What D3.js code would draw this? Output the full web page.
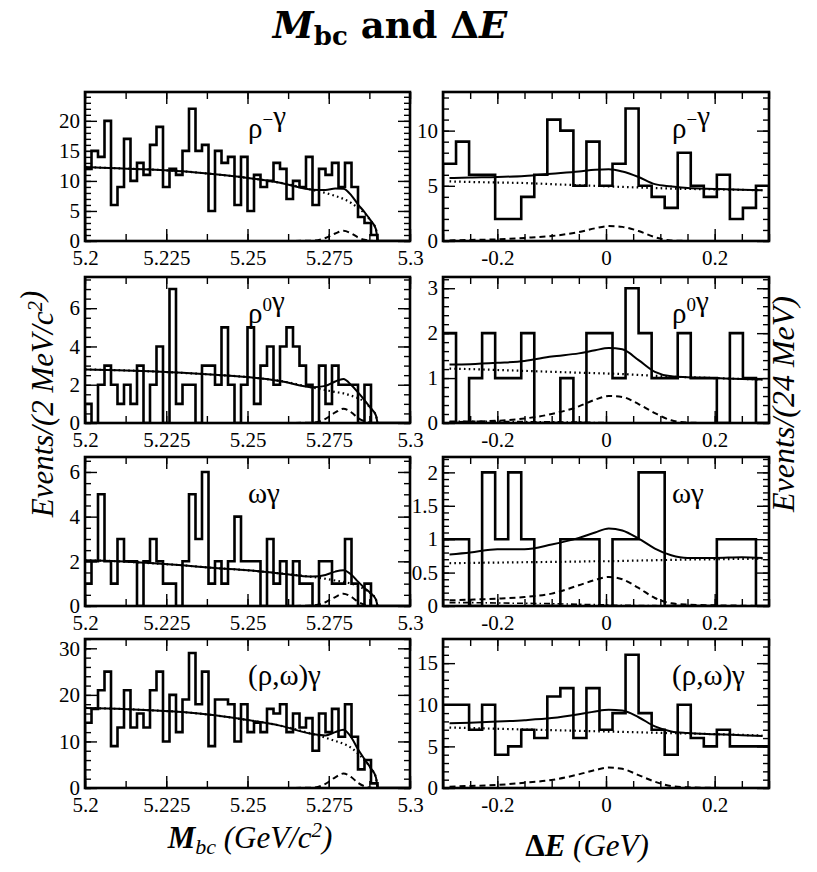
<!DOCTYPE html>
<html>
<head>
<meta charset="utf-8">
<script src="https://cdn.jsdelivr.net/npm/d3@7"></script>
<style>
  body { margin: 0; background: #fff; }
  svg { display: block; }
</style>
</head>
<body>
<div id="chart"></div>
<script>
// Mbc: 50 bins of 2 MeV in [5.2, 5.3]; dE: 25 bins of 24 MeV in [-0.3, 0.3]
const mbcDomain = [5.2, 5.3];
const deDomain = [-0.3, 0.3];
const mbcBin = 0.002;
const deBin = 0.024;

const mbcTickLabels = [5.2, 5.225, 5.25, 5.275, 5.3];
const deTickLabels = [-0.2, 0, 0.2];

// histogram contents (events / bin)
const rhoMinusMbc = [12, 15, 14, 20, 6, 9, 17, 10, 13, 11, 16, 19, 9, 12, 11, 15, 22, 15, 16, 5, 15, 13, 14, 6, 14, 5, 11, 9, 10, 13, 12, 7, 10, 9, 14, 6, 12, 11, 13, 9, 13, 9, 4, 3, 1, 0, 0, 0, 0, 0];
const rhoZeroMbc = [1, 0, 2, 3, 2, 1, 2, 1, 3, 0, 2, 4, 0, 7, 1, 2, 2, 0, 3, 3, 2, 5, 2, 0, 2, 5, 1, 3, 4, 2, 4, 5, 4, 3, 2, 0, 3, 1, 3, 2, 2, 2, 0, 2, 0, 0, 0, 0, 0, 0];
const omegaMbc = [1, 2, 5, 2, 1, 3, 2, 2, 0, 2, 3, 2, 1, 1, 0, 2, 5, 3, 6, 1, 2, 1, 2, 4, 2, 2, 2, 0, 3, 1, 2, 0, 2, 1, 1, 0, 2, 2, 1, 1, 3, 1, 0, 1, 0, 0, 0, 0, 0, 0];
const combMbc = [14, 17, 21, 25, 9, 13, 21, 13, 16, 13, 21, 25, 10, 20, 12, 19, 29, 18, 25, 9, 19, 19, 18, 10, 18, 12, 14, 12, 17, 16, 18, 12, 16, 13, 15, 8, 16, 12, 17, 11, 18, 11, 4, 6, 1, 0, 0, 0, 0, 0];

const rhoMinusDe = [7, 9, 6, 6, 2, 2, 4, 6, 11, 10, 5, 9, 5, 7, 12, 5, 4, 3, 8, 5, 4, 6, 2, 3, 5];
const rhoZeroDe = [2, 0, 1, 2, 1, 1, 2, 0, 0, 1, 0, 2, 2, 1, 3, 2, 1, 1, 2, 1, 1, 0, 2, 1, 0];
const omegaDe = [1, 1, 0, 2, 1, 2, 1, 0, 0, 1, 1, 1, 0, 1, 1, 2, 2, 0, 0, 0, 0, 1, 1, 1, 0];
const combDe = [10, 10, 7, 10, 4, 5, 7, 6, 11, 12, 6, 12, 7, 9, 16, 9, 7, 4, 10, 6, 5, 7, 5, 5, 5];

// fit curves, read at these abscissae
const mbcCurveX = [5.2, 5.21, 5.22, 5.23, 5.24, 5.25, 5.26, 5.27, 5.274, 5.277, 5.2795, 5.282, 5.284, 5.286, 5.288, 5.2895, 5.29];
const deCurveX = [-0.288, -0.25, -0.2, -0.15, -0.1, -0.05, -0.02, 0.005, 0.03, 0.06, 0.09, 0.12, 0.15, 0.2, 0.25, 0.288];

const rhoMinusMbcTotal = [12.3, 12.1, 11.9, 11.6, 11.1, 10.5, 9.7, 8.55, 8.5, 8.75, 8.7, 7.55, 6.1, 4.8, 3.35, 2.0, 0];
const rhoMinusMbcBkg = [12.3, 12.1, 11.9, 11.6, 11.1, 10.5, 9.7, 8.5, 8.0, 7.5, 7.0, 6.3, 5.5, 4.6, 3.3, 2.0, 0];
const rhoMinusMbcSig = [0, 0, 0, 0, 0, 0, 0, 0.05, 0.5, 1.25, 1.7, 1.25, 0.6, 0.2, 0.04, 0, 0];

const rhoZeroMbcTotal = [2.8, 2.76, 2.7, 2.62, 2.52, 2.4, 2.2, 1.87, 1.94, 2.17, 2.3, 1.97, 1.6, 1.2, 0.75, 0.4, 0];
const rhoZeroMbcBkg = [2.8, 2.76, 2.7, 2.62, 2.52, 2.4, 2.2, 1.85, 1.72, 1.62, 1.55, 1.42, 1.3, 1.1, 0.75, 0.4, 0];
const rhoZeroMbcSig = [0, 0, 0, 0, 0, 0, 0, 0.02, 0.22, 0.55, 0.75, 0.55, 0.26, 0.09, 0.02, 0, 0];

const omegaMbcTotal = [2.05, 2.0, 1.92, 1.82, 1.7, 1.6, 1.46, 1.32, 1.39, 1.54, 1.6, 1.4, 1.09, 0.81, 0.56, 0.3, 0];
const omegaMbcBkg = [2.05, 2.0, 1.92, 1.82, 1.7, 1.6, 1.46, 1.3, 1.22, 1.14, 1.08, 1.0, 0.9, 0.75, 0.55, 0.3, 0];
const omegaMbcSig = [0, 0, 0, 0, 0, 0, 0, 0.02, 0.17, 0.4, 0.55, 0.4, 0.19, 0.06, 0.01, 0, 0];

const combMbcTotal = [17.2, 17.0, 16.7, 16.3, 15.6, 14.6, 13.4, 11.6, 11.3, 12.0, 12.5, 10.8, 8.3, 6.2, 4.2, 2.3, 0];
const combMbcBkg = [17.2, 17.0, 16.7, 16.3, 15.6, 14.6, 13.4, 11.6, 10.8, 10.1, 9.5, 8.6, 7.4, 6.0, 4.2, 2.3, 0];
const combMbcSig = [0, 0, 0, 0, 0, 0, 0, 0.08, 0.9, 2.3, 3.1, 2.3, 1.1, 0.36, 0.07, 0, 0];

const rhoMinusDeTotal = [5.7, 5.75, 5.8, 5.9, 6.1, 6.3, 6.45, 6.5, 6.3, 5.8, 5.15, 4.95, 4.8, 4.72, 4.65, 4.6];
const rhoMinusDeBkg = [5.4, 5.35, 5.3, 5.25, 5.15, 5.05, 5.0, 4.95, 4.9, 4.85, 4.8, 4.75, 4.72, 4.68, 4.63, 4.6];
const rhoMinusDeSig = [0.05, 0.1, 0.15, 0.28, 0.45, 0.81, 1.15, 1.35, 1.28, 0.9, 0.35, 0.05, 0.01, 0, 0, 0];

const rhoZeroDeTotal = [1.3, 1.31, 1.34, 1.38, 1.48, 1.55, 1.62, 1.67, 1.64, 1.4, 1.14, 1.04, 1.02, 1.0, 0.98, 0.97];
const rhoZeroDeBkg = [1.21, 1.2, 1.18, 1.16, 1.14, 1.12, 1.11, 1.1, 1.09, 1.07, 1.05, 1.03, 1.02, 1.0, 0.98, 0.97];
const rhoZeroDeSig = [0.02, 0.03, 0.05, 0.1, 0.2, 0.37, 0.52, 0.6, 0.58, 0.42, 0.22, 0.06, 0.01, 0, 0, 0];
const rhoZeroDeOther = [0.04, 0.04, 0.035, 0.03, 0.025, 0.02, 0.012, 0.006, 0.003, 0, 0, 0, 0, 0, 0, 0];

const omegaDeTotal = [0.77, 0.8, 0.85, 0.85, 0.92, 1.02, 1.1, 1.16, 1.13, 1.01, 0.86, 0.76, 0.72, 0.72, 0.73, 0.72];
const omegaDeBkg = [0.64, 0.645, 0.65, 0.655, 0.66, 0.665, 0.67, 0.67, 0.675, 0.68, 0.685, 0.69, 0.695, 0.7, 0.705, 0.71];
const omegaDeSig = [0.085, 0.095, 0.11, 0.135, 0.185, 0.31, 0.39, 0.435, 0.4, 0.27, 0.12, 0.04, 0.02, 0.01, 0.005, 0];
const omegaDeOther = [0.05, 0.05, 0.045, 0.04, 0.035, 0.025, 0.02, 0.015, 0.01, 0.008, 0.005, 0.003, 0, 0, 0, 0];

const combDeTotal = [7.78, 7.85, 7.98, 8.15, 8.4, 8.86, 9.2, 9.39, 9.3, 8.5, 7.4, 6.8, 6.6, 6.46, 6.35, 6.26];
const combDeBkg = [7.26, 7.2, 7.12, 7.03, 6.95, 6.87, 6.82, 6.78, 6.74, 6.69, 6.64, 6.59, 6.55, 6.47, 6.38, 6.3];
const combDeSig = [0.16, 0.25, 0.36, 0.64, 0.96, 1.64, 2.15, 2.45, 2.3, 1.55, 0.76, 0.24, 0.08, 0.02, 0, 0];

// y-axis ranges and labels, panel order: rho- Mbc, rho- dE, rho0 Mbc, rho0 dE, omega Mbc, omega dE, comb Mbc, comb dE
const yMaxes = [24.8, 13.5, 7.63, 3.25, 6.67, 2.23, 32, 17.9];
const yTickLabels = [
  [0, 5, 10, 15, 20], [0, 5, 10],
  [0, 2, 4, 6], [0, 1, 2, 3],
  [0, 2, 4, 6], [0, 0.5, 1, 1.5, 2],
  [0, 10, 20, 30], [0, 5, 10, 15],
];
const yMinorSteps = [1, 1, 0.5, 0.2, 0.5, 0.1, 2, 1];

const modeLabels = [
  [{ t: 'ρ' }, { t: '−', sup: true }, { t: 'γ' }],
  [{ t: 'ρ' }, { t: '0', sup: true }, { t: 'γ' }],
  [{ t: 'ωγ' }],
  [{ t: '(ρ,ω)γ' }],
];

const serif = '"Liberation Serif", "Times New Roman", serif';

const svg = d3.select('#chart')
  .append('svg')
  .attr('width', 817)
  .attr('height', 872);

const cols = [
  { x0: 85, x1: 410, domain: mbcDomain, bin: mbcBin, ticks: mbcTickLabels, minor: 0.0125, curveX: mbcCurveX, labelX: 248 },
  { x0: 443, x1: 769, domain: deDomain, bin: deBin, ticks: deTickLabels, minor: 0.05, curveX: deCurveX, labelX: 672 },
];
const rows = [[92, 241], [277, 423], [457, 606], [639, 788]];

const panels = [
  { counts: rhoMinusMbc, total: rhoMinusMbcTotal, bkg: rhoMinusMbcBkg, sig: rhoMinusMbcSig },
  { counts: rhoMinusDe, total: rhoMinusDeTotal, bkg: rhoMinusDeBkg, sig: rhoMinusDeSig },
  { counts: rhoZeroMbc, total: rhoZeroMbcTotal, bkg: rhoZeroMbcBkg, sig: rhoZeroMbcSig },
  { counts: rhoZeroDe, total: rhoZeroDeTotal, bkg: rhoZeroDeBkg, sig: rhoZeroDeSig, other: rhoZeroDeOther },
  { counts: omegaMbc, total: omegaMbcTotal, bkg: omegaMbcBkg, sig: omegaMbcSig },
  { counts: omegaDe, total: omegaDeTotal, bkg: omegaDeBkg, sig: omegaDeSig, other: omegaDeOther },
  { counts: combMbc, total: combMbcTotal, bkg: combMbcBkg, sig: combMbcSig },
  { counts: combDe, total: combDeTotal, bkg: combDeBkg, sig: combDeSig },
];

const styleAxis = (g) => g
  .attr('font-family', serif)
  .call((a) => a.select('.domain').remove())
  .call((a) => a.selectAll('line').attr('stroke', '#000').attr('stroke-width', 1.4))
  .call((a) => a.selectAll('text')
    .attr('fill', '#000')
    .attr('font-family', serif)
    .attr('font-size', 21));

panels.forEach((p, i) => {
  const c = cols[i % 2];
  const [y0, y1] = rows[Math.floor(i / 2)];

  const x = d3.scaleLinear().domain(c.domain).range([c.x0, c.x1]);
  const y = d3.scaleLinear().domain([0, yMaxes[i]]).range([y1, y0]);

  const clipId = `clip-${i}`;
  svg.append('clipPath').attr('id', clipId)
    .append('rect')
    .attr('x', c.x0)
    .attr('y', y0)
    .attr('width', c.x1 - c.x0)
    .attr('height', y1 - y0);

  const g = svg.append('g').attr('class', `panel-${i}`);

  // axes: labelled ticks + minor ticks, all pointing inward
  const minorX = d3.range(c.domain[0], c.domain[1] + 1e-9, c.minor);
  const minorY = d3.range(0, yMaxes[i] + 1e-9, yMinorSteps[i]);

  g.append('g')
    .attr('transform', `translate(0,${y1})`)
    .call(d3.axisBottom(x).tickValues(minorX).tickSize(-7).tickFormat(''))
    .call(styleAxis);
  g.append('g')
    .attr('transform', `translate(0,${y1})`)
    .call(d3.axisBottom(x).tickValues(c.ticks).tickSize(-12).tickPadding(9).tickFormat((d) => String(d)))
    .call(styleAxis);
  g.append('g')
    .attr('transform', `translate(0,${y0})`)
    .call(d3.axisTop(x).tickValues(minorX).tickSize(-7).tickFormat(''))
    .call(styleAxis);
  g.append('g')
    .attr('transform', `translate(0,${y0})`)
    .call(d3.axisTop(x).tickValues(c.ticks).tickSize(-12).tickFormat(''))
    .call(styleAxis);

  g.append('g')
    .attr('transform', `translate(${c.x0},0)`)
    .call(d3.axisLeft(y).tickValues(minorY).tickSize(-6).tickFormat(''))
    .call(styleAxis);
  g.append('g')
    .attr('transform', `translate(${c.x0},0)`)
    .call(d3.axisLeft(y).tickValues(yTickLabels[i]).tickSize(-12).tickPadding(5).tickFormat((d) => String(d)))
    .call(styleAxis);
  g.append('g')
    .attr('transform', `translate(${c.x1},0)`)
    .call(d3.axisRight(y).tickValues(minorY).tickSize(-6).tickFormat(''))
    .call(styleAxis);
  g.append('g')
    .attr('transform', `translate(${c.x1},0)`)
    .call(d3.axisRight(y).tickValues(yTickLabels[i]).tickSize(-12).tickFormat(''))
    .call(styleAxis);

  // histogram outline
  const steps = [[c.domain[0], 0]]
    .concat(p.counts.map((n, k) => [c.domain[0] + k * c.bin, n]))
    .concat([[c.domain[1], p.counts[p.counts.length - 1]], [c.domain[1], 0]]);

  g.append('path')
    .attr('clip-path', `url(#${clipId})`)
    .attr('d', d3.line()
      .x((d) => x(d[0]))
      .y((d) => y(d[1]))
      .curve(d3.curveStepAfter)(steps))
    .attr('fill', 'none')
    .attr('stroke', '#000')
    .attr('stroke-width', 2.6);

  // fit components
  const fitLine = d3.line()
    .x((d) => x(d[0]))
    .y((d) => y(d[1]))
    .curve(d3.curveMonotoneX);

  const comps = [
    { v: p.other, dash: '6,3,1.5,3', w: 1.6 },
    { v: p.sig, dash: '6,4', w: 2 },
    { v: p.bkg, dash: '1.6,3.2', w: 2.2 },
    { v: p.total, dash: null, w: 2 },
  ].filter((d) => d.v);

  g.append('g')
    .attr('clip-path', `url(#${clipId})`)
    .selectAll('path')
    .data(comps)
    .join('path')
    .attr('d', (d) => fitLine(d.v.map((v, k) => [c.curveX[k], v])))
    .attr('fill', 'none')
    .attr('stroke', '#000')
    .attr('stroke-width', (d) => d.w)
    .attr('stroke-dasharray', (d) => d.dash);

  // frame
  g.append('rect')
    .attr('x', c.x0)
    .attr('y', y0)
    .attr('width', c.x1 - c.x0)
    .attr('height', y1 - y0)
    .attr('fill', 'none')
    .attr('stroke', '#000')
    .attr('stroke-width', 2.6);

  // decay mode label
  const lab = g.append('text')
    .attr('x', c.labelX)
    .attr('y', y0 + 46)
    .attr('font-family', serif)
    .attr('font-size', 29);
  modeLabels[Math.floor(i / 2)].forEach((s) => {
    if (s.sup) {
      lab.append('tspan').attr('dy', -12).attr('font-size', 19).text(s.t);
      lab.append('tspan').attr('dy', 12).text('');
    } else {
      lab.append('tspan').text(s.t);
    }
  });
});

// title
const title = svg.append('text')
  .attr('x', 390)
  .attr('y', 38)
  .attr('text-anchor', 'middle')
  .attr('font-family', '"DejaVu Serif", serif')
  .attr('font-weight', 'bold')
  .attr('font-size', 37);
title.append('tspan').attr('font-style', 'italic').text('M');
title.append('tspan').attr('dy', 7).attr('font-size', 26).text('bc');
title.append('tspan').attr('dy', -7).text(' and Δ');
title.append('tspan').attr('font-style', 'italic').text('E');

// axis titles
const yTitle = (tx, size, parts) => {
  const t = svg.append('text')
    .attr('transform', `translate(${tx},404) rotate(-90)`)
    .attr('text-anchor', 'middle')
    .attr('font-family', serif)
    .attr('font-style', 'italic')
    .attr('font-size', size);
  parts.forEach((s) => {
    if (s.sup) {
      t.append('tspan').attr('dy', -11).attr('font-size', size * 0.68).text(s.t);
      t.append('tspan').attr('dy', 11).text('');
    } else {
      t.append('tspan').text(s.t);
    }
  });
};
yTitle(53, 31, [{ t: 'Events/(2 MeV/c' }, { t: '2', sup: true }, { t: ')' }]);
yTitle(794, 32, [{ t: 'Events/(24 MeV)' }]);

const xt1 = svg.append('text')
  .attr('x', 250)
  .attr('y', 848)
  .attr('text-anchor', 'middle')
  .attr('font-family', serif)
  .attr('font-style', 'italic')
  .attr('font-size', 31);
xt1.append('tspan').attr('font-weight', 'bold').text('M');
xt1.append('tspan').attr('dy', 6).attr('font-size', 22).text('bc');
xt1.append('tspan').attr('dy', -6).text(' (GeV/c');
xt1.append('tspan').attr('dy', -11).attr('font-size', 21).text('2');
xt1.append('tspan').attr('dy', 11).text(')');

const xt2 = svg.append('text')
  .attr('x', 587)
  .attr('y', 856)
  .attr('text-anchor', 'middle')
  .attr('font-family', serif)
  .attr('font-size', 31);
xt2.append('tspan').attr('font-weight', 'bold').text('Δ');
xt2.append('tspan').attr('font-weight', 'bold').attr('font-style', 'italic').text('E');
xt2.append('tspan').attr('font-style', 'italic').text(' (GeV)');
</script>
</body>
</html>
